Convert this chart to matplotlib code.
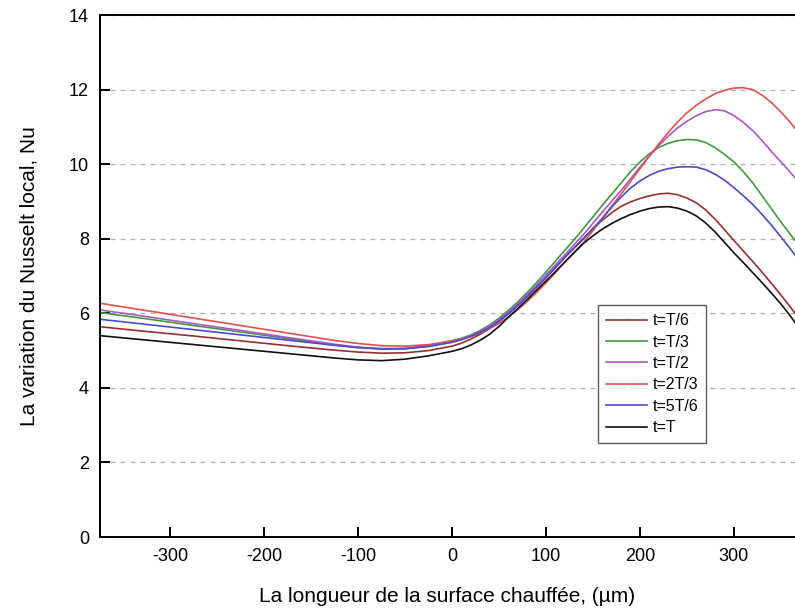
import matplotlib.pyplot as plt

plt.rcParams['font.family'] = ['Liberation Sans', 'DejaVu Sans']
plt.rcParams['axes.unicode_minus'] = False

# position along the heated surface (um): coarse on the left, every 10 um on the right
x = [-375, -325, -275, -225, -175, -150, -125, -100, -75, -50, -25] + list(range(0, 390, 10))

# local Nusselt number at each instant
nu_t6 = [5.64, 5.51, 5.39, 5.26, 5.13, 5.07, 5.01, 4.96, 4.93, 4.94, 5.00,
         5.12, 5.20, 5.31, 5.44, 5.60, 5.78, 5.99, 6.21, 6.45, 6.70,
         6.96, 7.23, 7.50, 7.76, 8.02, 8.27, 8.50, 8.70, 8.87, 8.99,
         9.08, 9.15, 9.20, 9.22, 9.18, 9.09, 8.96, 8.77, 8.52, 8.24,
         7.95, 7.67, 7.39, 7.10, 6.80, 6.49, 6.17, 5.83, 5.50]
nu_t3 = [6.02, 5.85, 5.67, 5.50, 5.32, 5.23, 5.15, 5.08, 5.05, 5.06, 5.14,
         5.27, 5.33, 5.42, 5.54, 5.69, 5.87, 6.08, 6.31, 6.56, 6.83,
         7.11, 7.40, 7.69, 7.98, 8.28, 8.59, 8.90, 9.20, 9.50, 9.80,
         10.06, 10.28, 10.45, 10.56, 10.63, 10.66, 10.65, 10.58, 10.44, 10.26,
         10.06, 9.80, 9.50, 9.15, 8.80, 8.45, 8.12, 7.79, 7.45]
nu_t2 = [6.09, 5.91, 5.72, 5.54, 5.35, 5.26, 5.17, 5.09, 5.05, 5.05, 5.12,
         5.24, 5.31, 5.40, 5.51, 5.65, 5.83, 6.03, 6.26, 6.50, 6.76,
         7.03, 7.30, 7.57, 7.85, 8.12, 8.42, 8.72, 9.01, 9.30, 9.61,
         9.92, 10.22, 10.50, 10.75, 10.97, 11.15, 11.30, 11.41, 11.46, 11.43,
         11.30, 11.12, 10.90, 10.63, 10.34, 10.06, 9.78, 9.50, 9.20]
nu_2t3 = [6.27, 6.07, 5.87, 5.67, 5.47, 5.37, 5.27, 5.19, 5.13, 5.12, 5.16,
          5.26, 5.31, 5.38, 5.47, 5.59, 5.73, 5.90, 6.10, 6.32, 6.56,
          6.82, 7.09, 7.37, 7.64, 7.90, 8.22, 8.55, 8.88, 9.20, 9.54,
          9.88, 10.22, 10.54, 10.85, 11.13, 11.38, 11.58, 11.75, 11.89, 11.98,
          12.04, 12.05, 12.00, 11.85, 11.65, 11.40, 11.12, 10.80, 10.48]
nu_5t6 = [5.84, 5.70, 5.56, 5.42, 5.28, 5.21, 5.14, 5.08, 5.04, 5.05, 5.11,
          5.22, 5.29, 5.38, 5.49, 5.62, 5.79, 5.99, 6.21, 6.45, 6.70,
          6.96, 7.23, 7.50, 7.75, 8.00, 8.28, 8.55, 8.85, 9.12, 9.36,
          9.55, 9.70, 9.81, 9.88, 9.92, 9.93, 9.92, 9.85, 9.73, 9.57,
          9.37, 9.15, 8.92, 8.65, 8.36, 8.05, 7.73, 7.39, 7.05]
nu_t = [5.40, 5.28, 5.16, 5.04, 4.92, 4.86, 4.80, 4.75, 4.73, 4.77, 4.86,
        4.98, 5.05, 5.15, 5.28, 5.44, 5.65, 5.90, 6.13, 6.37, 6.62,
        6.87, 7.12, 7.38, 7.63, 7.88, 8.08, 8.26, 8.41, 8.54, 8.65,
        8.74, 8.81, 8.85, 8.86, 8.82, 8.74, 8.61, 8.42, 8.18, 7.90,
        7.62, 7.36, 7.09, 6.82, 6.54, 6.25, 5.93, 5.58, 5.23]

series = [
    ('t=T/6', nu_t6, '#9a2f2f'),
    ('t=T/3', nu_t3, '#3f9a3f'),
    ('t=T/2', nu_t2, '#a957c9'),
    ('t=2T/3', nu_2t3, '#e2504f'),
    ('t=5T/6', nu_5t6, '#4a4ad2'),
    ('t=T', nu_t, '#111111'),
]

fig = plt.figure(figsize=(7.95, 6.09), dpi=100)
ax = fig.add_axes([100 / 795, 72 / 609, 695 / 795, 522 / 609])

for label, nu, color in series:
    ax.plot(x, nu, color=color, lw=1.2, label=label)

ax.set_xlim(-375, 365)
ax.set_ylim(0, 14)
ax.set_xticks([-300, -200, -100, 0, 100, 200, 300])
ax.set_yticks([0, 2, 4, 6, 8, 10, 12, 14])
ax.yaxis.grid(True, linestyle=(0, (4, 4)), color='#b0b0b0', lw=0.9)
ax.set_axisbelow(True)

ax.spines['right'].set_visible(False)
for s in ['left', 'bottom', 'top']:
    ax.spines[s].set_linewidth(1.4)
ax.tick_params(direction='in', length=7, width=1.4, labelsize=13, pad=8)

ax.set_xlabel('La longueur de la surface chauffée, (µm)', fontsize=15, labelpad=16)
ax.set_ylabel('La variation du Nusselt local, Nu', fontsize=15, labelpad=22)

leg = ax.legend(loc='upper left', bbox_to_anchor=(0.7165, 0.444), borderaxespad=0,
                fontsize=11.5, frameon=True, fancybox=False, edgecolor='#333333',
                handlelength=2.6, handletextpad=0.3, labelspacing=0.40,
                borderpad=0.5)
leg.get_frame().set_linewidth(1.0)

fig.savefig('out.png', dpi=100)
